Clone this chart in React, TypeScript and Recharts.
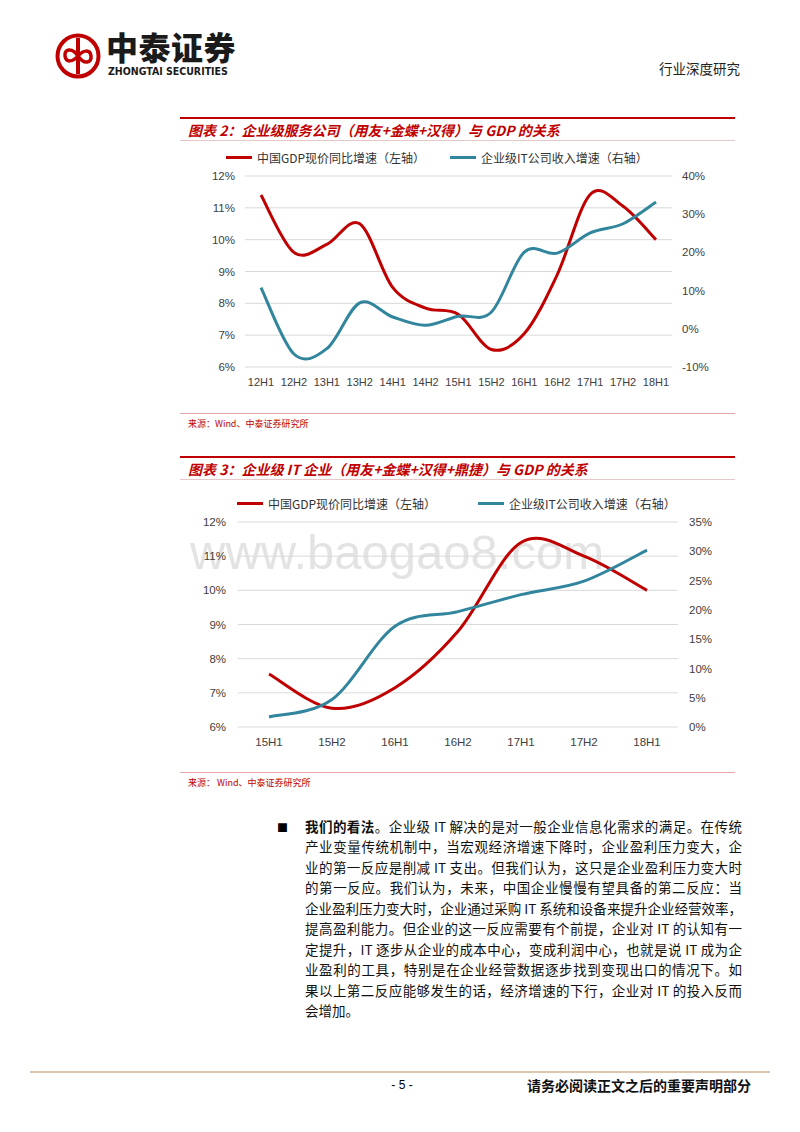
import {
  LineChart,
  Line,
  XAxis,
  YAxis,
  CartesianGrid,
  Legend,
} from "recharts";

const halfYears1 = ["12H1", "12H2", "13H1", "13H2", "14H1", "14H2", "15H1", "15H2", "16H1", "16H2", "17H1", "17H2", "18H1"];
const gdp1 = [11.4, 9.6, 9.85, 10.5, 8.5, 7.85, 7.65, 6.55, 7.05, 8.9, 11.42, 11.05, 10.0];
const it1 = [10.8, -6.6, -5.2, 6.8, 3.1, 0.9, 3.3, 4.4, 20.1, 19.8, 25.1, 27.5, 33.2];
const leftTicks1 = [6, 7, 8, 9, 10, 11, 12];
const rightTicks1 = [-10, 0, 10, 20, 30, 40];

const halfYears2 = ["15H1", "15H2", "16H1", "16H2", "17H1", "17H2", "18H1"];
const gdp2 = [7.55, 6.55, 7.15, 8.8, 11.4, 11.0, 10.0];
const it2 = [1.7, 4.7, 17.2, 19.7, 22.6, 24.9, 30.2];
const leftTicks2 = [6, 7, 8, 9, 10, 11, 12];
const rightTicks2 = [0, 5, 10, 15, 20, 25, 30, 35];

const gdpName = "中国GDP现价同比增速（左轴）";
const itName = "企业级IT公司收入增速（右轴）";

const paragraph = [
  "。企业级 IT 解决的是对一般企业信息化需求的满足。在传统",
  "产业变量传统机制中，当宏观经济增速下降时，企业盈利压力变大，企",
  "业的第一反应是削减 IT 支出。但我们认为，这只是企业盈利压力变大时",
  "的第一反应。我们认为，未来，中国企业慢慢有望具备的第二反应：当",
  "企业盈利压力变大时，企业通过采购 IT 系统和设备来提升企业经营效率，",
  "提高盈利能力。但企业的这一反应需要有个前提，企业对 IT 的认知有一",
  "定提升，IT 逐步从企业的成本中心，变成利润中心，也就是说 IT 成为企",
  "业盈利的工具，特别是在企业经营数据逐步找到变现出口的情况下。如",
  "果以上第二反应能够发生的话，经济增速的下行，企业对 IT 的投入反而",
  "会增加。",
];

const RED = "#C00000";
const TEAL = "#31859C";
const CJK = '"Noto Sans CJK SC", sans-serif';
const LATIN = '"Liberation Sans", Arial, sans-serif';

// Excel-style smoothed line (catmull-rom through the points)
const excelSmooth = (context: any) => {
  let xs: number[] = [];
  let ys: number[] = [];
  return {
    areaStart() {},
    areaEnd() {},
    lineStart() {
      xs = [];
      ys = [];
    },
    point(x: number, y: number) {
      xs.push(+x);
      ys.push(+y);
    },
    lineEnd() {
      const n = xs.length;
      if (!n) return;
      context.moveTo(xs[0], ys[0]);
      for (let i = 0; i < n - 1; i++) {
        const a = Math.max(i - 1, 0);
        const d = Math.min(i + 2, n - 1);
        context.bezierCurveTo(
          xs[i] + (xs[i + 1] - xs[a]) / 6,
          ys[i] + (ys[i + 1] - ys[a]) / 6,
          xs[i + 1] - (xs[d] - xs[i]) / 6,
          ys[i + 1] - (ys[d] - ys[i]) / 6,
          xs[i + 1],
          ys[i + 1]
        );
      }
    },
  };
};

const pct = (v: number) => `${v}%`;

function LegendRow({ left, firstWidth }: { left: number; firstWidth: number }) {
  const item = (color: string, label: string, width?: number) => (
    <div style={{ display: "flex", alignItems: "center", width }}>
      <span style={{ display: "inline-block", width: 26, height: 3, background: color, marginRight: 5 }} />
      <span>{label}</span>
    </div>
  );
  return (
    <div
      style={{
        display: "flex",
        alignItems: "center",
        height: 30,
        paddingLeft: left,
        fontFamily: CJK,
        fontSize: 12,
        color: "#333",
        whiteSpace: "nowrap",
      }}
    >
      {item(RED, gdpName, firstWidth)}
      {item(TEAL, itName)}
    </div>
  );
}

interface ChartProps {
  cats: string[];
  gdp: number[];
  it: number[];
  leftTicks: number[];
  rightTicks: number[];
  width: number;
  height: number;
  leftWidth: number;
  marginRight: number;
  leftGap: number;
  rightGap: number;
  xFont: number;
  xPad: number;
  legendLeft: number;
  legendFirst: number;
}

function GrowthChart(p: ChartProps) {
  const data = p.cats.map((c, i) => ({ cat: c, gdp: p.gdp[i], it: p.it[i] }));
  const tick = { fill: "#404040", fontSize: 11.5, fontFamily: LATIN };
  return (
    <LineChart
      width={p.width}
      height={p.height}
      data={data}
      margin={{ top: 6, right: p.marginRight, left: 0, bottom: 0 }}
    >
      <CartesianGrid yAxisId="left" vertical={false} stroke="#D9D9D9" />
      <XAxis
        dataKey="cat"
        axisLine={false}
        tickLine={false}
        height={30}
        interval={0}
        padding={{ left: p.xPad, right: p.xPad }}
        tickMargin={5}
        tick={{ ...tick, fontSize: p.xFont }}
      />
      <YAxis
        yAxisId="left"
        width={p.leftWidth}
        domain={[p.leftTicks[0], p.leftTicks[p.leftTicks.length - 1]]}
        ticks={p.leftTicks}
        tickFormatter={pct}
        axisLine={false}
        tickLine={false}
        tickMargin={p.leftGap}
        tick={tick}
      />
      <YAxis
        yAxisId="right"
        orientation="right"
        width={40}
        domain={[p.rightTicks[0], p.rightTicks[p.rightTicks.length - 1]]}
        ticks={p.rightTicks}
        tickFormatter={pct}
        axisLine={false}
        tickLine={false}
        tickMargin={p.rightGap}
        tick={{ ...tick, textAnchor: "start" }}
      />
      <Legend
        verticalAlign="top"
        height={30}
        wrapperStyle={{ top: 2 }}
        content={() => <LegendRow left={p.legendLeft} firstWidth={p.legendFirst} />}
      />
      <Line
        yAxisId="left"
        dataKey="gdp"
        name={gdpName}
        type={excelSmooth as any}
        stroke={RED}
        strokeWidth={3}
        dot={false}
        isAnimationActive={false}
      />
      <Line
        yAxisId="right"
        dataKey="it"
        name={itName}
        type={excelSmooth as any}
        stroke={TEAL}
        strokeWidth={3}
        dot={false}
        isAnimationActive={false}
      />
    </LineChart>
  );
}

function TitleBar({ top, text }: { top: number; text: string }) {
  return (
    <>
      <div style={{ position: "absolute", left: 180, top, width: 555, height: 2, background: RED }} />
      <div
        style={{
          position: "absolute",
          left: 188,
          top: top + 4,
          height: 18,
          lineHeight: "18px",
          fontFamily: CJK,
          fontSize: 14,
          fontWeight: 700,
          fontStyle: "italic",
          color: RED,
          whiteSpace: "nowrap",
        }}
      >
        {text}
      </div>
      <div style={{ position: "absolute", left: 180, top: top + 23, width: 555, height: 1, background: "#E6C8C8" }} />
    </>
  );
}

function Source({ top, text }: { top: number; text: string }) {
  return (
    <>
      <div style={{ position: "absolute", left: 180, top, width: 555, height: 1, background: "#E3A9A9" }} />
      <div
        style={{
          position: "absolute",
          left: 188,
          top: top + 5,
          fontFamily: CJK,
          fontSize: 9,
          lineHeight: "12px",
          color: RED,
          whiteSpace: "pre",
        }}
      >
        {text}
      </div>
    </>
  );
}

export default function App() {
  return (
    <div style={{ position: "absolute", left: 0, top: 0, width: 800, height: 1132, background: "#fff", overflow: "hidden" }}>
      {/* header */}
      <svg style={{ position: "absolute", left: 55, top: 33 }} width={46} height={46} viewBox="0 0 46 46">
        <circle cx={23} cy={23} r={20.5} fill="none" stroke={RED} strokeWidth={4} />
        <rect x={21} y={5} width={4} height={36} fill={RED} />
        <path d="M23 23 C 17 14, 9 16, 10 23 C 11 30, 18 29, 23 23 C 28 17, 35 16, 36 23 C 37 30, 29 32, 23 23 Z" fill="none" stroke={RED} strokeWidth={3.5} />
      </svg>
      <div
        style={{
          position: "absolute",
          left: 106,
          top: 30,
          fontFamily: CJK,
          fontSize: 32,
          fontWeight: 900,
          lineHeight: "32px",
          color: "#1a1a1a",
          letterSpacing: 0.5,
        }}
      >
        中泰证券
      </div>
      <div
        style={{
          position: "absolute",
          left: 108,
          top: 65,
          fontFamily: '"DejaVu Sans Condensed", "Liberation Sans Narrow", sans-serif',
          fontSize: 10.5,
          fontWeight: 700,
          lineHeight: "12px",
          color: "#1a1a1a",
        }}
      >
        ZHONGTAI SECURITIES
      </div>
      <div
        style={{
          position: "absolute",
          right: 60,
          top: 59,
          fontFamily: CJK,
          fontSize: 13.5,
          lineHeight: "18px",
          color: "#222",
        }}
      >
        行业深度研究
      </div>

      {/* chart 2 */}
      <TitleBar top={117} text="图表 2：企业级服务公司（用友+金蝶+汉得）与 GDP 的关系" />
      <div style={{ position: "absolute", left: 180, top: 140 }}>
        <GrowthChart
          cats={halfYears1}
          gdp={gdp1}
          it={it1}
          leftTicks={leftTicks1}
          rightTicks={rightTicks1}
          width={555}
          height={257}
          leftWidth={65}
          marginRight={23}
          leftGap={4}
          rightGap={4}
          xFont={11}
          xPad={16}
          legendLeft={46}
          legendFirst={224}
        />
      </div>
      <Source top={413} text="来源：Wind、中泰证券研究所" />

      {/* chart 3 */}
      <TitleBar top={456} text="图表 3：企业级 IT 企业（用友+金蝶+汉得+鼎捷）与 GDP 的关系" />
      <div
        style={{
          position: "absolute",
          left: 190,
          top: 524,
          fontFamily: LATIN,
          fontSize: 49,
          lineHeight: "56px",
          color: "#E3E3E3",
          whiteSpace: "nowrap",
        }}
      >
        www.baogao8.com
      </div>
      <div style={{ position: "absolute", left: 180, top: 486 }}>
        <GrowthChart
          cats={halfYears2}
          gdp={gdp2}
          it={it2}
          leftTicks={leftTicks2}
          rightTicks={rightTicks2}
          width={555}
          height={271}
          leftWidth={58}
          marginRight={17}
          leftGap={6}
          rightGap={5}
          xFont={11.5}
          xPad={31}
          legendLeft={57}
          legendFirst={241}
        />
      </div>
      <Source top={772} text="来源： Wind、中泰证券研究所" />

      {/* text */}
      <div style={{ position: "absolute", left: 277, top: 818, fontSize: 11, lineHeight: "18px", fontFamily: CJK }}>■</div>
      <div
        style={{
          position: "absolute",
          left: 305,
          top: 816,
          width: 437,
          fontFamily: CJK,
          fontSize: 13.5,
          lineHeight: "20.45px",
          color: "#111",
        }}
      >
        {paragraph.map((line, i) => (
          <div
            key={i}
            style={{
              textAlign: "justify",
              textAlignLast: i < paragraph.length - 1 ? "justify" : "left",
              whiteSpace: "nowrap",
            }}
          >
            {i === 0 && <b>我们的看法</b>}
            {line}
          </div>
        ))}
      </div>

      {/* footer */}
      <div style={{ position: "absolute", left: 30, top: 1071, width: 740, height: 2, background: "#DCC6AE" }} />
      <div style={{ position: "absolute", left: 385, top: 1077, width: 34, textAlign: "center", fontFamily: LATIN, fontSize: 12, lineHeight: "16px" }}>
        - 5 -
      </div>
      <div
        style={{
          position: "absolute",
          right: 49,
          top: 1076,
          fontFamily: CJK,
          fontSize: 14,
          fontWeight: 600,
          lineHeight: "18px",
          color: "#111",
        }}
      >
        请务必阅读正文之后的重要声明部分
      </div>
    </div>
  );
}
